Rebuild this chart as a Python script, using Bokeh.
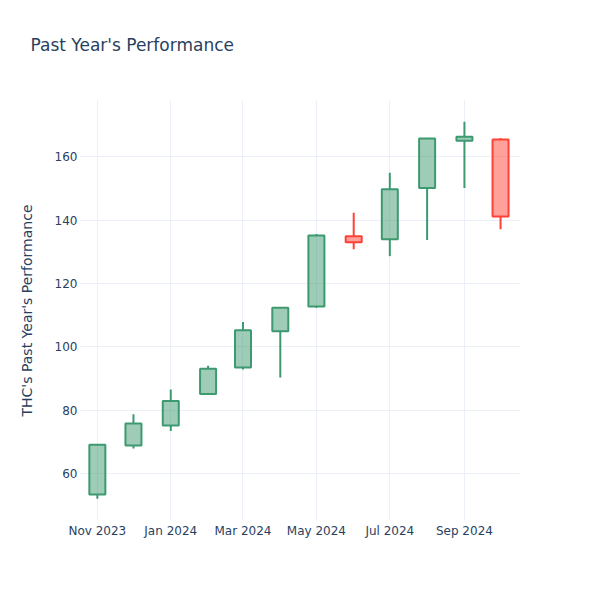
from datetime import datetime
import pandas as pd
from bokeh.plotting import figure
from bokeh.models import FixedTicker, DatetimeTickFormatter, Range1d, ColumnDataSource, Title
from bokeh.embed import file_html
from bokeh.resources import INLINE

dates = ["2023-11-01", "2023-12-01", "2024-01-01", "2024-02-01", "2024-03-01", "2024-04-01",
         "2024-05-01", "2024-06-01", "2024-07-01", "2024-08-01", "2024-09-01", "2024-10-01"]
opens = [53.4, 68.9, 75.2, 85.1, 93.5, 104.9, 112.7, 134.9, 133.9, 150.1, 165.0, 165.4]
highs = [69.2, 78.7, 86.5, 94.0, 107.8, 112.5, 135.6, 142.3, 154.9, 165.9, 171.0, 165.8]
lows = [52.1, 67.9, 73.4, 84.9, 92.8, 90.3, 112.3, 130.8, 128.6, 133.7, 150.1, 137.1]
closes = [69.1, 75.8, 82.9, 93.1, 105.2, 112.3, 135.1, 133.0, 149.7, 165.7, 166.3, 141.1]
xtick_dates = ["2023-11-01", "2024-01-01", "2024-03-01", "2024-05-01", "2024-07-01", "2024-09-01"]
yticks = [60, 80, 100, 120, 140, 160]
title_text = "Past Year's Performance"

INC = "#3D9970"
DEC = "#FF4136"
TXT = "#2a3f5f"
GRID = "#EBF0F8"
FONT = "DejaVu Sans"

df = pd.DataFrame({"date": pd.to_datetime(dates), "open": opens, "high": highs,
                   "low": lows, "close": closes})
df["top"] = df[["open", "close"]].max(axis=1)
df["bot"] = df[["open", "close"]].min(axis=1)
df["color"] = [INC if c >= o else DEC for o, c in zip(df["open"], df["close"])]

src = ColumnDataSource(df)

p = figure(width=584, height=584, x_axis_type="datetime", output_backend="svg",
           toolbar_location=None, min_border_left=80, min_border_right=64,
           min_border_top=100, min_border_bottom=64,
           x_range=Range1d(datetime(2023, 10, 18), datetime(2024, 10, 17, 14)),
           y_range=Range1d(45.2, 177.7))
p.outline_line_color = None
p.background_fill_color = "white"
p.title = None

spacer = Title(text=" ", text_font=FONT, text_font_size="17px", standoff=24)
real_title = Title(text=title_text, text_font=FONT, text_font_size="17px",
                   text_font_style="normal", text_color=TXT, align="left",
                   offset=-50, standoff=0)
p.add_layout(spacer, "above")
p.add_layout(real_title, "above")

bw = 13.3 * 86400000
p.segment(x0="date", y0="top", x1="date", y1="high", source=src, line_color="color", line_width=2)
p.segment(x0="date", y0="bot", x1="date", y1="low", source=src, line_color="color", line_width=2)
p.vbar(x="date", width=bw, top="top", bottom="bot", source=src, fill_color="color",
       fill_alpha=0.5, line_color="color", line_width=2)

p.xaxis.ticker = FixedTicker(ticks=[pd.Timestamp(d).value // 10**6 for d in xtick_dates])
p.xaxis.formatter = DatetimeTickFormatter(months="%b %Y", days="%b %Y", years="%b %Y")
p.yaxis.ticker = FixedTicker(ticks=yticks)

for ax in (p.xaxis, p.yaxis):
    ax.axis_line_color = None
    ax.major_tick_line_color = None
    ax.minor_tick_line_color = None
    ax.major_tick_out = 0
    ax.major_tick_in = 0
    ax.minor_tick_out = 0
    ax.minor_tick_in = 0
    ax.major_label_text_font = FONT
    ax.major_label_text_font_size = "12px"
    ax.major_label_text_color = TXT

p.xaxis.major_label_standoff = 3
p.yaxis.major_label_standoff = 3
p.yaxis.axis_label = "THC's Past Year's Performance"
p.yaxis.axis_label_text_font = FONT
p.yaxis.axis_label_text_font_size = "14px"
p.yaxis.axis_label_text_font_style = "normal"
p.yaxis.axis_label_text_color = TXT
p.yaxis.axis_label_standoff = 17

p.xgrid.grid_line_color = GRID
p.ygrid.grid_line_color = GRID
p.xgrid.grid_line_width = 1
p.ygrid.grid_line_width = 1

open("out.html", "w").write(file_html(p, INLINE))
